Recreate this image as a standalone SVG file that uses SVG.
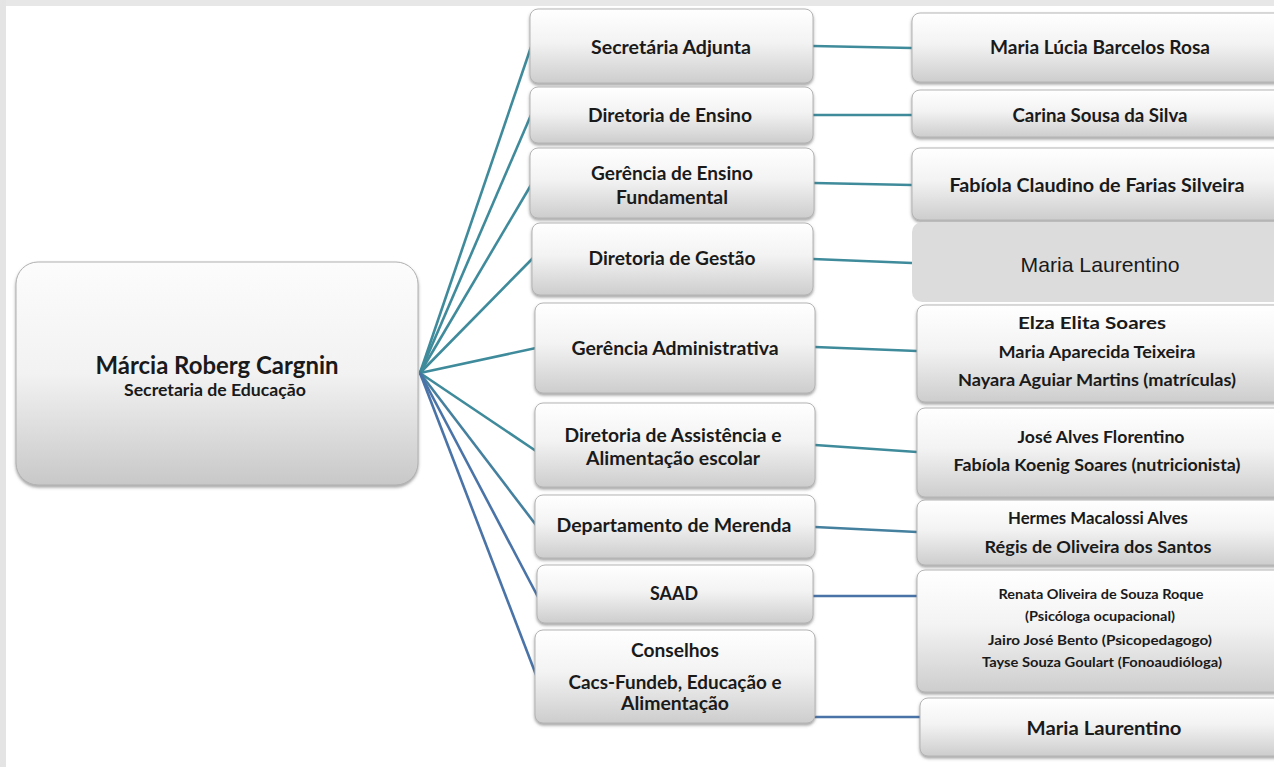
<svg xmlns="http://www.w3.org/2000/svg" width="1274" height="767" viewBox="0 0 1274 767">
<defs>
<linearGradient id="gBox" x1="0" y1="0" x2="0" y2="1">
<stop offset="0" stop-color="#ffffff"/>
<stop offset="0.45" stop-color="#f3f3f3"/>
<stop offset="1" stop-color="#cdcdcd"/>
</linearGradient>
<linearGradient id="gRoot" x1="0" y1="0" x2="0" y2="1">
<stop offset="0" stop-color="#fcfcfc"/>
<stop offset="0.5" stop-color="#f2f2f2"/>
<stop offset="1" stop-color="#c8c8c8"/>
</linearGradient>
<filter id="sh" x="-5%" y="-10%" width="110%" height="130%">
<feDropShadow dx="0" dy="2" stdDeviation="1.6" flood-color="#555" flood-opacity="0.55"/>
</filter>
</defs>
<style>
.box{fill:url(#gBox);stroke:#b4b4b4;stroke-width:1;filter:url(#sh)}
.root{fill:url(#gRoot);stroke:#b0b0b0;stroke-width:1;filter:url(#sh)}
.flat{fill:#dcdcdc;stroke:none}
.t{font-family:Lato,"Open Sans","Liberation Sans",sans-serif;font-weight:bold;fill:#1a1a1a;text-anchor:middle}
.a{font-family:"Liberation Sans",Arial,sans-serif;font-weight:normal;fill:#1a1a1a;text-anchor:middle}
.teal{stroke:#3f8b9b;stroke-width:2.6;fill:none}
.blue{stroke:#4a73a8;stroke-width:2.6;fill:none}
.mid{stroke:#45809f;stroke-width:2.6;fill:none}
</style>
<rect x="0" y="0" width="1274" height="767" fill="#ffffff"/>
<rect x="0" y="0" width="1274" height="6" fill="#e7e7e7"/>
<rect x="0" y="0" width="6" height="767" fill="#e4e4e4"/>

<g id="connectors">
<line class="teal" x1="420" y1="373" x2="531" y2="47"/>
<line class="teal" x1="420" y1="373" x2="531" y2="115"/>
<line class="teal" x1="420" y1="373" x2="531" y2="185"/>
<line class="teal" x1="420" y1="373" x2="533" y2="258"/>
<line class="teal" x1="420" y1="373" x2="536" y2="348"/>
<line class="teal" x1="420" y1="373" x2="536" y2="451"/>
<line class="mid" x1="420" y1="373" x2="536" y2="525"/>
<line class="blue" x1="420" y1="373" x2="538" y2="597"/>
<line class="blue" x1="420" y1="373" x2="538" y2="680"/>
<line class="teal" x1="813" y1="46" x2="912" y2="48"/>
<line class="teal" x1="813" y1="115" x2="912" y2="115"/>
<line class="teal" x1="814" y1="183" x2="912" y2="185"/>
<line class="teal" x1="813" y1="259" x2="912" y2="263"/>
<line class="teal" x1="815" y1="347" x2="917" y2="351"/>
<line class="teal" x1="815" y1="445" x2="917" y2="452"/>
<line class="mid" x1="815" y1="527" x2="917" y2="532"/>
<line class="blue" x1="813" y1="596" x2="917" y2="596"/>
<line class="blue" x1="815" y1="717" x2="920" y2="717"/>
</g>

<g id="root">
<rect class="root" x="16" y="262" width="402" height="223" rx="22"/>
<text class="t" x="217" y="374" font-size="25" textLength="243" lengthAdjust="spacingAndGlyphs">Márcia Roberg Cargnin</text>
<text class="t" x="215" y="396" font-size="17" textLength="182" lengthAdjust="spacingAndGlyphs">Secretaria de Educação</text>
</g>

<g id="n-secretaria-adjunta">
<rect class="box" x="530" y="9" width="283" height="74" rx="8"/>
<text class="t" x="671" y="54" font-size="19" textLength="160" lengthAdjust="spacingAndGlyphs">Secretária Adjunta</text>
</g>
<g id="n-diretoria-ensino">
<rect class="box" x="530" y="87" width="283" height="56" rx="8"/>
<text class="t" x="670" y="122" font-size="19" textLength="164" lengthAdjust="spacingAndGlyphs">Diretoria de Ensino</text>
</g>
<g id="n-gerencia-ensino">
<rect class="box" x="530" y="148" width="284" height="70" rx="8"/>
<text class="t" x="672" y="180" font-size="19" textLength="162" lengthAdjust="spacingAndGlyphs">Gerência de Ensino</text>
<text class="t" x="672" y="204" font-size="19" textLength="112" lengthAdjust="spacingAndGlyphs">Fundamental</text>
</g>
<g id="n-diretoria-gestao">
<rect class="box" x="532" y="223" width="281" height="72" rx="8"/>
<text class="t" x="672" y="265" font-size="19" textLength="167" lengthAdjust="spacingAndGlyphs">Diretoria de Gestão</text>
</g>
<g id="n-gerencia-adm">
<rect class="box" x="535" y="303" width="280" height="90" rx="8"/>
<text class="t" x="675" y="355" font-size="19" textLength="207" lengthAdjust="spacingAndGlyphs">Gerência Administrativa</text>
</g>
<g id="n-diretoria-assistencia">
<rect class="box" x="535" y="403" width="280" height="84" rx="8"/>
<text class="t" x="673" y="442" font-size="19" textLength="217" lengthAdjust="spacingAndGlyphs">Diretoria de Assistência e</text>
<text class="t" x="673" y="465" font-size="19" textLength="174" lengthAdjust="spacingAndGlyphs">Alimentação escolar</text>
</g>
<g id="n-merenda">
<rect class="box" x="535" y="495" width="280" height="63" rx="8"/>
<text class="t" x="674" y="532" font-size="19" textLength="235" lengthAdjust="spacingAndGlyphs">Departamento de Merenda</text>
</g>
<g id="n-saad">
<rect class="box" x="537" y="565" width="276" height="58" rx="8"/>
<text class="t" x="674" y="600" font-size="19" textLength="48" lengthAdjust="spacingAndGlyphs">SAAD</text>
</g>
<g id="n-conselhos">
<rect class="box" x="535" y="630" width="280" height="93" rx="8"/>
<text class="t" x="675" y="657" font-size="19" textLength="88" lengthAdjust="spacingAndGlyphs">Conselhos</text>
<text class="t" x="675" y="689" font-size="19" textLength="213" lengthAdjust="spacingAndGlyphs">Cacs-Fundeb, Educação e</text>
<text class="t" x="675" y="710" font-size="19" textLength="108" lengthAdjust="spacingAndGlyphs">Alimentação</text>
</g>

<g id="n-maria-lucia">
<rect class="box" x="912" y="13" width="380" height="69" rx="8"/>
<text class="t" x="1100" y="54" font-size="19" textLength="220" lengthAdjust="spacingAndGlyphs">Maria Lúcia Barcelos Rosa</text>
</g>
<g id="n-carina">
<rect class="box" x="912" y="90" width="380" height="47" rx="8"/>
<text class="t" x="1100" y="122" font-size="18" textLength="175" lengthAdjust="spacingAndGlyphs">Carina Sousa da Silva</text>
</g>
<g id="n-fabiola">
<rect class="box" x="912" y="148" width="380" height="72" rx="8"/>
<text class="t" x="1097" y="192" font-size="19" textLength="295" lengthAdjust="spacingAndGlyphs">Fabíola Claudino de Farias Silveira</text>
</g>
<g id="n-maria-laurentino-1">
<rect class="flat" x="912" y="222" width="380" height="80" rx="10"/>
<text class="a" x="1100" y="272" font-size="21" textLength="159" lengthAdjust="spacingAndGlyphs">Maria Laurentino</text>
</g>
<g id="n-elza">
<rect class="box" x="917" y="305" width="375" height="97" rx="8"/>
<text class="t" x="1092" y="329" font-size="17" textLength="148" lengthAdjust="spacingAndGlyphs">Elza Elita Soares</text>
<text class="t" x="1097" y="358" font-size="17" textLength="197" lengthAdjust="spacingAndGlyphs">Maria Aparecida Teixeira</text>
<text class="t" x="1097" y="386" font-size="17" textLength="278" lengthAdjust="spacingAndGlyphs">Nayara Aguiar Martins (matrículas)</text>
</g>
<g id="n-jose">
<rect class="box" x="917" y="408" width="375" height="89" rx="8"/>
<text class="t" x="1101" y="443" font-size="17" textLength="167" lengthAdjust="spacingAndGlyphs">José Alves Florentino</text>
<text class="t" x="1097" y="471" font-size="17" textLength="287" lengthAdjust="spacingAndGlyphs">Fabíola Koenig Soares (nutricionista)</text>
</g>
<g id="n-hermes">
<rect class="box" x="917" y="500" width="375" height="65" rx="8"/>
<text class="t" x="1098" y="524" font-size="17" textLength="180" lengthAdjust="spacingAndGlyphs">Hermes Macalossi Alves</text>
<text class="t" x="1098" y="553" font-size="17" textLength="227" lengthAdjust="spacingAndGlyphs">Régis de Oliveira dos Santos</text>
</g>
<g id="n-renata">
<rect class="box" x="917" y="570" width="375" height="122" rx="8"/>
<text class="t" x="1101" y="599" font-size="14" textLength="205" lengthAdjust="spacingAndGlyphs">Renata Oliveira de Souza Roque</text>
<text class="t" x="1100" y="621" font-size="14" textLength="150" lengthAdjust="spacingAndGlyphs">(Psicóloga ocupacional)</text>
<text class="t" x="1100" y="645" font-size="14" textLength="224" lengthAdjust="spacingAndGlyphs">Jairo José Bento (Psicopedagogo)</text>
<text class="t" x="1102" y="667" font-size="14" textLength="240" lengthAdjust="spacingAndGlyphs">Tayse Souza Goulart (Fonoaudióloga)</text>
</g>
<g id="n-maria-laurentino-2">
<rect class="box" x="920" y="698" width="372" height="58" rx="8"/>
<text class="t" x="1104" y="735" font-size="19" textLength="155" lengthAdjust="spacingAndGlyphs">Maria Laurentino</text>
</g>
</svg>
